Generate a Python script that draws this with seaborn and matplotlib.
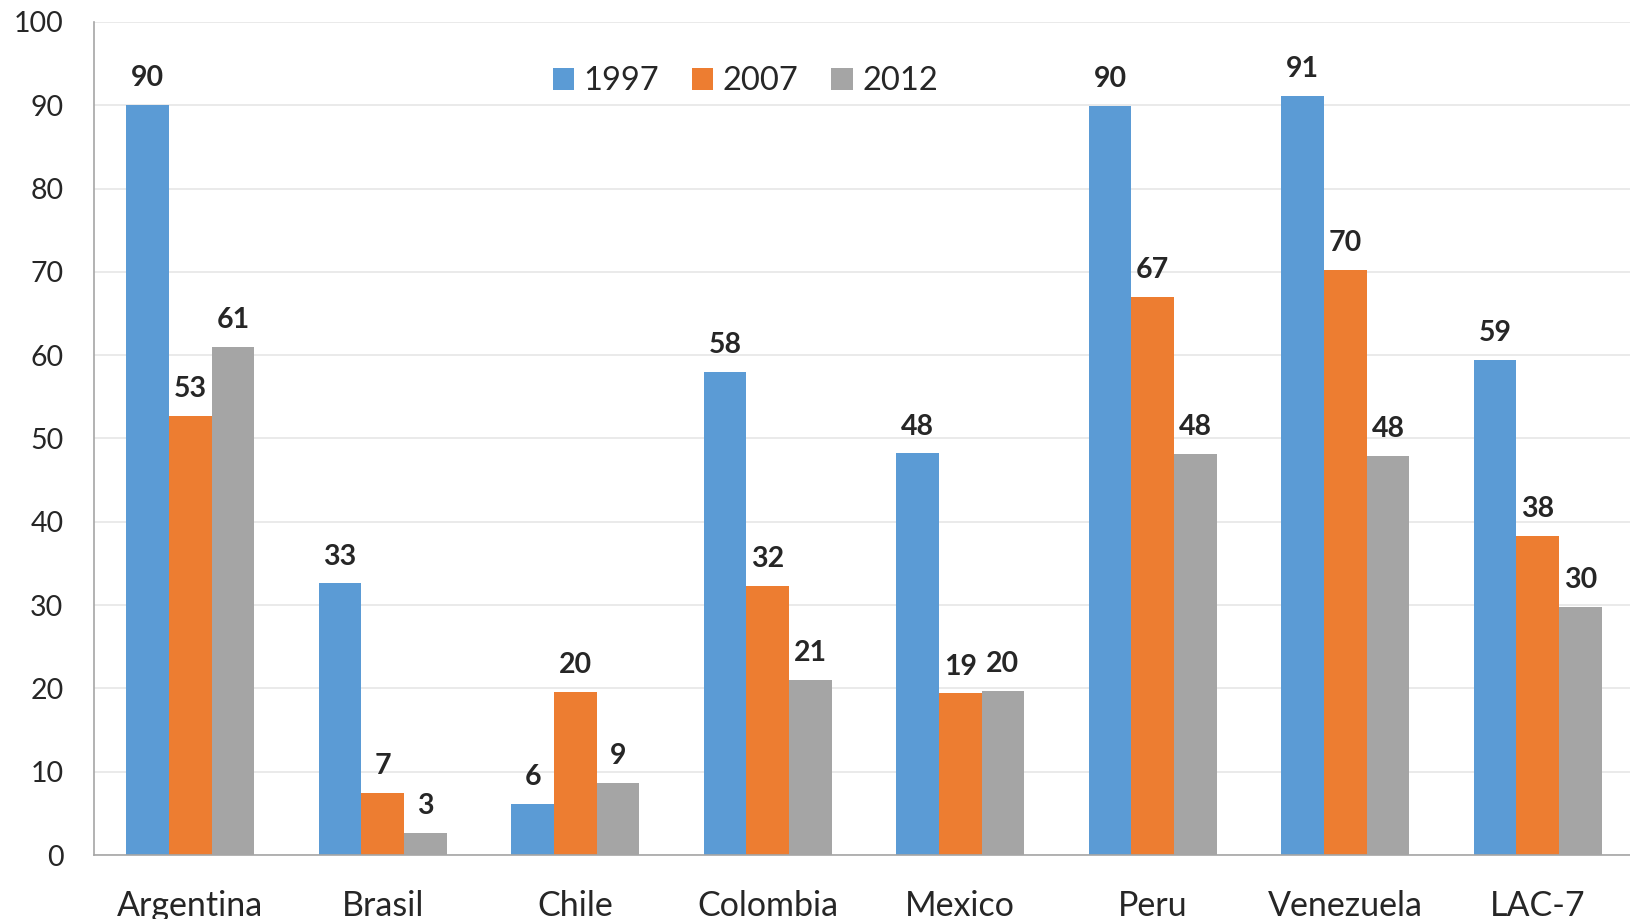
import numpy as np
import pandas as pd
import matplotlib
matplotlib.use("Agg")
import matplotlib.pyplot as plt
import seaborn as sns

countries = ["Argentina", "Brasil", "Chile", "Colombia", "Mexico", "Peru", "Venezuela", "LAC-7"]
years = ["1997", "2007", "2012"]
values_1997 = [90.0, 32.6, 6.1, 58.0, 48.2, 89.9, 91.1, 59.4]
values_2007 = [52.7, 7.4, 19.6, 32.3, 19.4, 67.0, 70.2, 38.3]
values_2012 = [61.0, 2.6, 8.7, 21.0, 19.7, 48.1, 47.9, 29.8]
colors = ["#5B9BD5", "#ED7D31", "#A5A5A5"]

df = pd.DataFrame({
    "country": countries * 3,
    "year": [y for y in years for _ in countries],
    "value": values_1997 + values_2007 + values_2012,
})

sns.set_style("white")
plt.rcParams["font.family"] = ["Lato", "DejaVu Sans"]

fig = plt.figure(figsize=(16.31, 9.19), dpi=100)
ax = fig.add_axes([94 / 1631, 64 / 919, 1540 / 1631, 833 / 919])

sns.barplot(
    data=df,
    x="country",
    y="value",
    hue="year",
    palette=colors,
    width=0.665,
    gap=0,
    saturation=1,
    edgecolor="none",
    linewidth=0,
    ax=ax,
)

for container in ax.containers:
    ax.bar_label(container, fmt="%.0f", padding=10, fontsize=20.5, fontweight="bold")

ax.set_ylim(0, 100)
ax.set_yticks(np.arange(0, 101, 10))
ax.set_xlim(-0.5, 7.5)
ax.yaxis.grid(True, color="#E6E6E6", linewidth=1.2)
ax.set_axisbelow(True)
ax.set_xlabel("")
ax.set_ylabel("")

ax.tick_params(axis="y", length=0, pad=22, labelsize=20.5)
ax.tick_params(axis="x", which="major", length=0, pad=25, labelsize=24.5)
ax.set_xticks(np.arange(-0.5, 8, 1), minor=True)
ax.tick_params(axis="x", which="minor", length=8, width=1.2, color="#A6A6A6")

for side in ["top", "right"]:
    ax.spines[side].set_visible(False)
for side in ["left", "bottom"]:
    ax.spines[side].set_color("#A6A6A6")
    ax.spines[side].set_linewidth(1.2)

ax.legend(
    loc="center",
    bbox_to_anchor=(0.423, 0.929),
    ncol=3,
    frameon=False,
    fontsize=23.5,
    handlelength=0.65,
    handleheight=0.65,
    handletextpad=0.3,
    columnspacing=1.0,
)

fig.savefig("out.png", dpi=100)
